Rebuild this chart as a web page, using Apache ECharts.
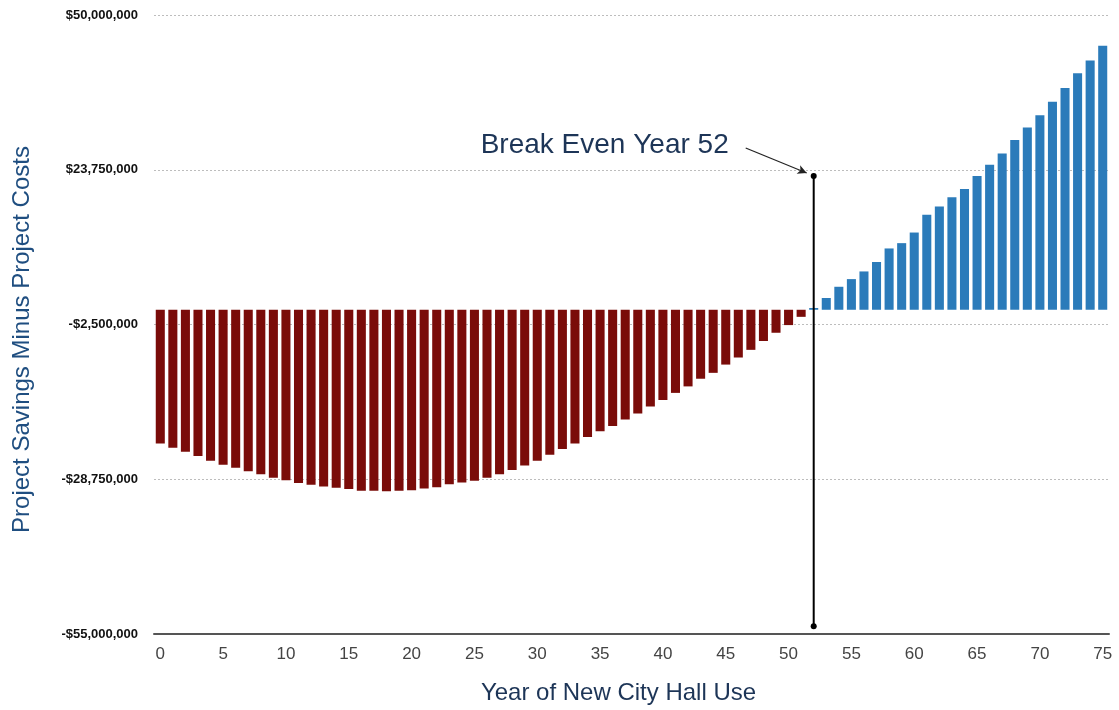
<!DOCTYPE html>
<html>
<head>
<meta charset="utf-8">
<title>Project Savings Minus Project Costs</title>
<script src="https://cdn.jsdelivr.net/npm/echarts@6/dist/echarts.min.js"></script>
<style>
  html, body { margin: 0; padding: 0; background: #ffffff; }
  #chart { width: 1119px; height: 710px; }
</style>
</head>
<body>
<div id="chart"></div>
<script>
// Years of use, 0 through 75
const years = [
  '0','1','2','3','4','5','6','7','8','9',
  '10','11','12','13','14','15','16','17','18','19',
  '20','21','22','23','24','25','26','27','28','29',
  '30','31','32','33','34','35','36','37','38','39',
  '40','41','42','43','44','45','46','47','48','49',
  '50','51','52','53','54','55','56','57','58','59',
  '60','61','62','63','64','65','66','67','68','69',
  '70','71','72','73','74','75'
];

// Cumulative project savings minus project costs, in dollars
const netSavings = [
  -22.7e6, -23.4e6, -24.1e6, -24.8e6, -25.6e6, -26.3e6, -26.8e6, -27.4e6, -27.9e6, -28.5e6,
  -28.9e6, -29.4e6, -29.7e6, -30.0e6, -30.2e6, -30.4e6, -30.7e6, -30.7e6, -30.8e6, -30.7e6,
  -30.6e6, -30.3e6, -30.1e6, -29.6e6, -29.3e6, -29.0e6, -28.5e6, -27.9e6, -27.2e6, -26.4e6,
  -25.6e6, -24.6e6, -23.6e6, -22.7e6, -21.6e6, -20.6e6, -19.7e6, -18.6e6, -17.6e6, -16.4e6,
  -15.3e6, -14.1e6, -13.0e6, -11.7e6, -10.7e6, -9.3e6, -8.1e6, -6.8e6, -5.3e6, -3.9e6,
  -2.6e6, -1.2e6, 0.3e6, 2.0e6, 3.9e6, 5.2e6, 6.5e6, 8.1e6, 10.4e6, 11.3e6,
  13.1e6, 16.1e6, 17.5e6, 19.1e6, 20.5e6, 22.7e6, 24.6e6, 26.5e6, 28.8e6, 30.9e6,
  33.0e6, 35.3e6, 37.6e6, 40.1e6, 42.3e6, 44.8e6
];

// Value-axis tick positions
const yTicks = [-55e6, -28.75e6, -2.5e6, 23.75e6, 50e6];

// Break-even marker
const breakEvenYear = '52';
const breakEvenLabel = 'Break Even Year 52';
const markerTop = 22.7e6;
const markerBottom = -53.7e6;

const FONT = '"Liberation Sans", Arial, Helvetica, sans-serif';
const NEG_COLOR = '#7a0c09';
const POS_COLOR = '#2b7bba';

function money(v) {
  const s = Math.abs(Math.round(v)).toString().replace(/\B(?=(\d{3})+(?!\d))/g, ',');
  return (v < 0 ? '-$' : '$') + s;
}

const chart = echarts.init(document.getElementById('chart'), null, { renderer: 'canvas' });

const option = {
  animation: false,
  backgroundColor: '#ffffff',
  grid: { left: 154, right: 10, top: 15, bottom: 74, containLabel: false },
  xAxis: {
    type: 'category',
    data: years,
    boundaryGap: true,
    name: 'Year of New City Hall Use',
    nameLocation: 'middle',
    nameGap: 47,
    nameTextStyle: { fontFamily: FONT, fontSize: 24, color: '#1d3557', padding: [0, 26, 0, 0] },
    axisLine: { onZero: false, lineStyle: { color: '#555555', width: 2 } },
    axisTick: { show: false },
    axisLabel: {
      interval: 4,
      margin: 12,
      fontFamily: FONT,
      fontSize: 17,
      color: '#444444'
    },
    splitLine: { show: false }
  },
  yAxis: {
    type: 'value',
    min: -55e6,
    max: 50e6,
    name: 'Project Savings Minus Project Costs',
    nameLocation: 'middle',
    nameGap: 120,
    nameTextStyle: { fontFamily: FONT, fontSize: 24, color: '#1f4e80', padding: [0, 30, 0, 0] },
    axisLine: { show: false },
    axisTick: { show: false },
    splitLine: { show: false },
    axisLabel: {
      customValues: yTicks,
      margin: 16,
      fontFamily: FONT,
      fontSize: 13,
      fontWeight: 'bold',
      color: '#111111',
      formatter: money
    }
  },
  series: [
    {
      type: 'bar',
      data: netSavings,
      barWidth: '72%',
      itemStyle: {
        color: function (p) { return p.value < 0 ? NEG_COLOR : POS_COLOR; }
      },
      markLine: {
        silent: true,
        symbol: ['none', 'none'],
        label: { show: false },
        lineStyle: { color: '#bdbdbd', type: [2, 2], width: 1 },
        data: yTicks.filter(function (v) { return v !== -55e6; }).map(function (v) { return { yAxis: v }; }),
        z: 1
      },
      z: 2
    },
    {
      type: 'line',
      data: [[breakEvenYear, markerTop], [breakEvenYear, markerBottom]],
      symbol: 'circle',
      symbolSize: 6,
      lineStyle: { color: '#000000', width: 2 },
      itemStyle: { color: '#000000' },
      z: 5
    }
  ]
};

chart.setOption(option);

// Annotation text and arrow placed relative to the top of the break-even marker
const dot = chart.convertToPixel({ xAxisIndex: 0, yAxisIndex: 0 }, [breakEvenYear, markerTop]);
const arrowStart = [dot[0] - 68, dot[1] - 28];
const arrowEnd = [dot[0] - 7, dot[1] - 3];

chart.setOption({
  series: [
    {},
    {
      markLine: {
        silent: true,
        symbol: ['none', 'arrow'],
        symbolSize: [7, 9],
        label: { show: false },
        lineStyle: { color: '#222222', width: 1.2, type: 'solid' },
        data: [[
          { x: arrowStart[0], y: arrowStart[1] },
          { x: arrowEnd[0], y: arrowEnd[1] }
        ]]
      }
    }
  ],
  graphic: [
    {
      type: 'text',
      x: dot[0] - 85,
      y: dot[1] - 31,
      style: {
        text: breakEvenLabel,
        fontFamily: FONT,
        fontSize: 28,
        fill: '#1d3557',
        textAlign: 'right',
        textVerticalAlign: 'middle'
      },
      z: 10
    }
  ]
});
</script>
</body>
</html>
